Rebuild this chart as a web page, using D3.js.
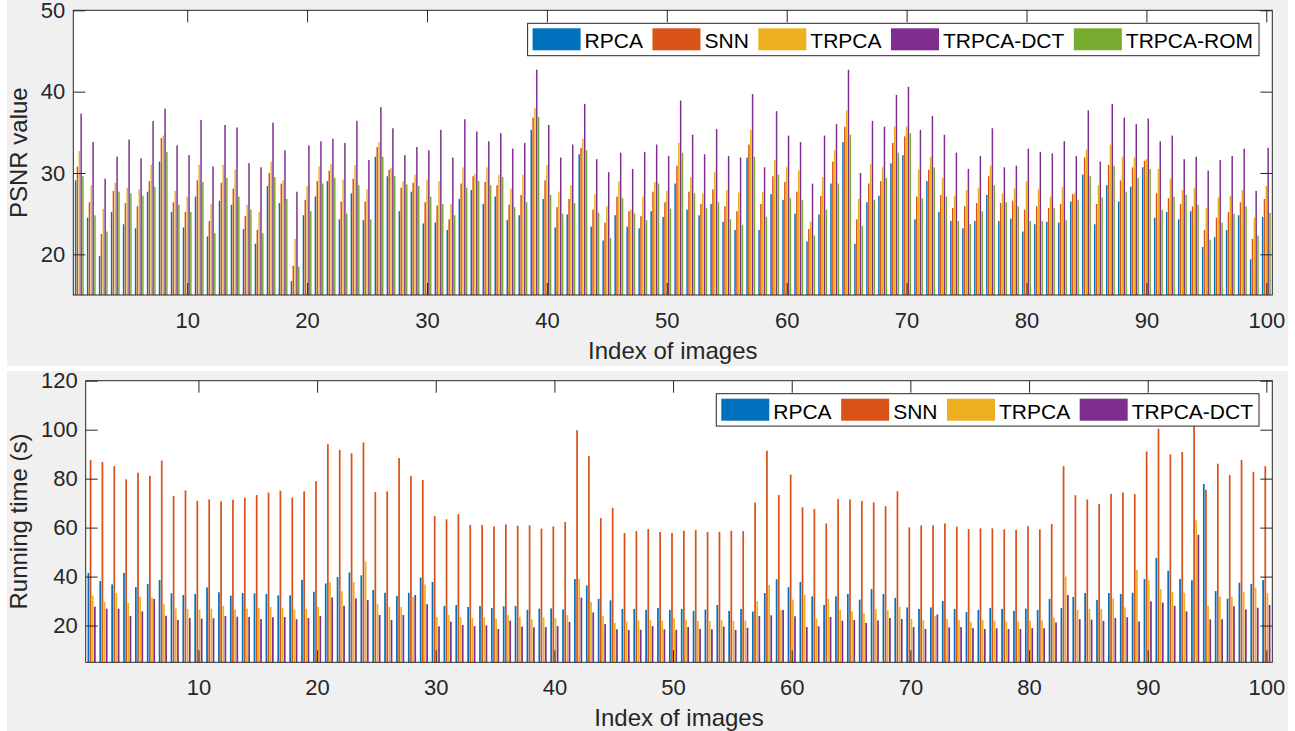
<!DOCTYPE html>
<html>
<head>
<meta charset="utf-8">
<script src="https://cdn.jsdelivr.net/npm/d3@7"></script>
<style>
  body { margin: 0; background: #fff; }
  svg { display: block; font-family: "Liberation Sans", Arial, Helvetica, sans-serif; }
</style>
</head>
<body>
<svg id="fig" width="1295" height="731"></svg>
<script>
// image index 1..100 (categories)
const imageIndex = d3.range(1, 101);
const xTickValues = [10, 20, 30, 40, 50, 60, 70, 80, 90, 100];
const psnrTicks = [20, 30, 40, 50];
const timeTicks = [20, 40, 60, 80, 100, 120];

// PSNR values (top plot)
const psnrRPCA = [29.1,24.5,19.8,25.2,23.7,23.2,27.7,31.4,25.2,23.3,27.1,22.2,26.6,26.1,23.1,21.3,28.4,26.3,16.7,24.8,
  27.1,29.0,24.3,27.5,24.2,32.0,29.6,25.3,27.7,23.8,23.9,23.0,26.8,27.9,26.2,27.1,24.2,24.8,35.3,26.8,
  23.3,24.9,32.3,23.4,21.7,24.8,23.4,23.2,25.3,24.6,28.7,25.5,24.8,26.2,24.0,23.0,31.9,23.0,27.4,26.7,
  25.0,21.6,24.9,28.7,33.8,21.3,26.4,27.2,31.2,32.2,24.3,29.0,25.2,24.1,23.2,24.1,27.3,24.1,24.4,22.8,
  23.7,24.0,23.9,26.5,29.8,23.7,28.5,26.5,28.3,30.7,24.5,25.2,24.3,25.3,20.9,22.1,23.0,24.8,19.4,24.6];
const psnrSNN = [30.8,26.4,22.5,27.8,26.3,25.9,29.0,34.3,26.4,25.2,29.1,24.1,28.8,28.1,24.7,23.0,30.0,28.7,18.6,26.7,
  29.0,30.3,26.5,29.3,26.5,33.2,30.4,28.2,28.8,26.4,26.0,24.3,28.7,29.6,28.9,28.5,26.1,27.3,36.8,29.1,
  25.8,26.8,33.1,25.5,23.9,27.1,25.3,24.7,27.7,26.4,30.9,27.7,26.2,28.0,25.9,25.3,33.5,26.2,29.6,28.9,
  27.7,23.1,27.2,31.4,35.7,24.3,28.7,29.0,33.7,34.5,27.1,30.4,27.3,25.7,25.9,26.3,29.6,26.3,26.6,25.5,
  25.9,25.7,26.2,27.4,31.9,26.2,31.0,29.1,30.7,31.5,27.5,26.9,26.2,25.9,23.0,24.5,25.2,26.4,21.9,26.8];
const psnrTRPCA = [32.7,28.5,25.6,28.8,28.2,28.0,31.0,34.6,27.8,27.1,31.0,26.2,31.0,30.4,26.1,25.2,31.4,29.1,21.9,28.4,
  30.8,31.1,29.2,31.0,28.0,33.8,30.6,29.0,29.8,29.2,29.0,26.2,30.7,29.9,30.7,29.8,28.1,29.8,38.0,31.0,
  27.7,28.5,34.2,27.4,25.9,29.0,25.5,27.1,28.9,27.8,33.7,29.5,27.5,30.1,27.9,27.6,35.3,27.7,31.6,30.7,
  30.3,24.0,29.5,32.8,37.7,26.8,31.1,30.7,35.7,35.7,30.4,32.0,29.4,27.2,27.9,28.2,30.9,27.5,28.1,29.0,
  28.0,27.1,28.3,27.5,32.9,28.5,33.5,32.0,31.9,31.7,30.5,29.3,27.9,28.2,25.7,27.0,27.2,27.9,24.5,28.4];
const psnrDCT = [37.3,33.8,29.3,32.0,34.1,31.8,36.4,37.9,33.4,32.2,36.5,30.8,35.9,35.6,31.2,30.7,36.2,32.8,27.7,33.4,
  33.9,34.2,33.7,36.4,31.6,38.1,35.5,32.2,33.2,32.8,35.3,31.9,36.6,35.1,33.9,34.9,33.0,33.7,42.7,35.9,
  31.9,33.5,38.5,31.7,30.1,32.5,30.5,32.6,33.5,32.1,38.9,34.7,32.3,35.4,32.1,31.9,39.7,30.7,37.6,34.6,
  33.8,28.7,34.6,36.0,42.7,30.0,36.4,35.7,39.6,40.6,35.3,37.0,34.7,32.5,30.5,32.1,35.5,30.7,30.9,33.0,
  32.6,32.4,33.9,32.1,37.7,31.4,38.5,36.8,36.0,36.7,33.9,34.6,31.7,32.0,30.3,31.6,32.1,33.0,27.8,33.1];
const psnrROM = [29.6,24.8,22.8,27.7,27.5,27.2,28.3,32.6,26.1,25.2,28.9,22.6,29.4,27.1,25.5,22.6,29.5,26.8,18.5,25.3,
  28.7,29.4,25.0,28.5,24.3,32.0,29.6,28.6,28.4,27.1,26.2,24.8,28.2,29.0,28.5,29.5,25.8,26.4,36.9,27.3,
  25.0,26.3,32.8,25.1,22.0,26.9,25.0,24.2,28.7,25.6,32.5,27.5,25.7,26.4,24.3,23.6,32.0,24.6,29.8,26.9,
  26.7,22.3,25.5,28.7,34.7,23.5,26.7,29.4,32.5,34.9,26.9,30.7,27.1,24.1,23.7,25.3,28.5,26.4,25.9,24.1,
  24.1,25.7,24.2,26.7,29.6,27.0,30.9,27.7,29.4,30.5,25.5,27.1,27.3,26.1,21.8,23.9,25.0,25.9,22.3,25.1];

// running time in seconds (bottom plot)
const timeRPCA = [41.5,38.2,36.8,41.5,35.7,37.0,38.6,33.2,32.5,32.9,35.6,33.6,32.2,33.3,33.2,32.9,32.3,32.3,38.7,33.8,
  37.2,39.8,41.7,40.5,34.5,33.4,32.1,33.4,39.6,37.8,28.0,28.4,27.6,28.0,27.2,27.9,28.0,26.4,26.9,27.0,
  26.6,39.0,36.4,30.9,30.3,26.8,26.8,26.4,27.2,26.4,26.8,26.0,26.5,28.4,26.0,26.8,25.7,33.3,38.9,35.7,
  37.8,31.9,28.4,31.9,32.9,30.6,34.9,32.9,31.3,27.4,26.8,27.4,30.0,26.8,25.5,26.4,27.2,26.8,26.0,26.9,
  26.4,30.9,27.2,31.7,33.3,30.4,33.3,32.9,33.4,39.0,47.6,42.4,39.0,38.5,77.8,34.1,31.0,37.5,37.0,38.6];
const timeSNN = [87.6,86.8,85.1,79.7,82.4,81.2,87.4,72.9,75.2,70.9,71.5,70.7,71.4,72.2,73.3,74.3,75.1,72.3,74.8,79.0,
  94.1,91.7,90.4,94.8,74.5,74.8,88.4,81.1,79.4,64.7,63.4,65.5,61.1,61.1,60.5,61.3,60.8,60.9,59.6,60.5,
  62.3,99.8,89.2,63.9,68.1,57.8,58.6,59.4,58.2,57.8,58.7,59.0,58.2,58.3,58.7,58.6,70.2,91.4,73.3,81.7,
  68.3,67.6,61.7,71.7,71.5,70.9,70.3,68.8,74.8,60.1,60.9,60.9,61.7,60.4,59.4,59.7,59.7,59.3,59.0,60.6,
  59.3,61.5,85.1,73.2,71.5,69.6,73.8,74.4,73.7,91.1,100.4,89.9,90.9,102.5,75.5,86.1,81.5,87.6,82.8,85.1];
const timeTRPCA = [32.3,29.6,33.3,29.2,31.7,31.4,28.7,27.0,26.8,26.6,26.8,28.1,26.6,26.9,27.2,27.6,27.2,26.5,26.9,27.6,
  37.7,34.0,37.8,46.2,28.9,27.6,27.6,31.7,36.8,23.5,24.3,23.5,23.1,23.4,22.7,24.3,23.6,22.6,23.4,23.0,
  24.3,39.1,29.6,23.8,21.1,21.7,22.1,22.3,22.0,23.0,22.4,21.9,21.9,22.4,21.9,22.1,30.0,36.6,26.2,30.6,
  32.6,22.8,30.9,26.4,25.8,25.0,26.8,26.2,27.7,22.7,22.3,23.9,22.7,22.3,21.5,22.3,22.0,21.7,21.7,22.0,
  22.1,23.2,40.0,26.4,26.8,26.8,31.1,27.4,42.7,38.5,34.9,33.8,33.4,63.0,28.1,31.8,31.8,33.8,35.5,33.2];
const timeDCT = [27.7,26.9,26.9,23.9,25.8,30.9,24.0,22.3,23.1,22.8,23.0,23.9,23.6,23.5,22.7,23.4,23.5,22.6,23.1,23.9,
  31.5,28.1,31.1,30.4,24.3,22.3,24.3,32.5,28.7,19.7,21.6,20.2,19.8,20.1,18.6,22.0,19.6,19.3,19.4,19.8,
  21.5,31.4,25.4,20.6,18.5,18.2,18.3,19.8,18.5,18.3,19.4,18.6,18.5,19.6,18.2,19.1,23.9,24.2,26.4,23.8,
  19.4,19.7,23.5,22.0,22.3,21.1,22.1,23.1,22.7,19.4,18.6,24.5,19.3,19.4,19.0,18.6,18.9,18.6,18.6,19.0,
  18.9,21.3,32.5,22.6,22.4,21.9,23.1,23.4,21.7,29.9,29.4,28.1,25.8,57.1,22.6,22.6,27.9,26.6,27.3,28.4];

const methodNames = ['RPCA', 'SNN', 'TRPCA', 'TRPCA-DCT', 'TRPCA-ROM'];
const methodColors = ['#0072BD', '#D95319', '#EDB120', '#7E2F8E', '#77AC30'];
const ink = '#262626';

const svg = d3.select('#fig');
svg.append('rect').attr('width', 1295).attr('height', 731).attr('fill', '#fff');
svg.append('rect').attr('x', 7).attr('y', 0).attr('width', 1281).attr('height', 366).attr('fill', '#f0f0f0');
svg.append('rect').attr('x', 7).attr('y', 371).attr('width', 1281).attr('height', 360).attr('fill', '#f0f0f0');

function drawPanel(p) {
    const g = svg.append('g');
    const x = d3.scaleLinear().domain([0.5, 100.5]).range([p.left, p.right]);
    const y = d3.scaleLinear().domain(p.yDomain).range([p.bottom, p.top]);

    g.append('rect')
        .attr('x', p.left).attr('y', p.top)
        .attr('width', p.right - p.left).attr('height', p.bottom - p.top)
        .attr('fill', '#fff');

    // grouped bars, matlab style spacing
    const n = p.series.length;
    const groupWidth = Math.min(0.8, n / (n + 1.5));
    const barW = groupWidth / n * 0.8;
    p.series.forEach((vals, j) => {
        const off = -groupWidth / 2 + (2 * j + 1) * groupWidth / (2 * n);
        g.append('g').selectAll('rect')
            .data(vals)
            .join('rect')
            .attr('x', (d, i) => x(imageIndex[i] + off - barW / 2))
            .attr('width', x(barW) - x(0))
            .attr('y', d => y(d))
            .attr('height', d => y(p.yDomain[0]) - y(d))
            .attr('fill', methodColors[j]);
    });

    const styleAxis = sel => {
        sel.select('.domain').remove();
        sel.selectAll('line').attr('stroke', ink);
        sel.selectAll('text').attr('fill', ink).attr('font-size', 22)
            .attr('font-family', '"Liberation Sans", Arial, Helvetica, sans-serif');
    };

    g.append('g').attr('transform', `translate(0,${p.bottom})`)
        .call(d3.axisBottom(x).tickValues(xTickValues).tickSizeInner(-12).tickSizeOuter(0).tickPadding(17.4))
        .call(styleAxis);
    g.append('g').attr('transform', `translate(0,${p.top})`)
        .call(d3.axisTop(x).tickValues(xTickValues).tickSizeInner(-12).tickSizeOuter(0).tickFormat(''))
        .call(styleAxis);
    g.append('g').attr('transform', `translate(${p.left},0)`)
        .call(d3.axisLeft(y).tickValues(p.yTicks).tickSizeInner(-12).tickSizeOuter(0).tickPadding(8))
        .call(styleAxis);
    g.append('g').attr('transform', `translate(${p.right},0)`)
        .call(d3.axisRight(y).tickValues(p.yTicks).tickSizeInner(-12).tickSizeOuter(0).tickFormat(''))
        .call(styleAxis);

    g.append('rect')
        .attr('x', p.left).attr('y', p.top)
        .attr('width', p.right - p.left).attr('height', p.bottom - p.top)
        .attr('fill', 'none').attr('stroke', ink).attr('stroke-width', 1);

    g.append('text')
        .attr('x', (p.left + p.right) / 2).attr('y', p.bottom + 64)
        .attr('text-anchor', 'middle').attr('font-size', 24).attr('fill', ink)
        .text('Index of images');
    g.append('text')
        .attr('transform', `translate(27,${(p.top + p.bottom) / 2}) rotate(-90)`)
        .attr('text-anchor', 'middle').attr('font-size', 24).attr('fill', ink)
        .text(p.yLabel);

    // legend, anchored at the top right corner
    const lg = g.append('g');
    const box = lg.append('rect');
    let cx = 5;
    p.series.forEach((vals, j) => {
        lg.append('rect').attr('x', cx).attr('y', 5).attr('width', 48).attr('height', 22)
            .attr('fill', methodColors[j]);
        const t = lg.append('text').attr('x', cx + 52).attr('y', 25)
            .attr('font-size', 21).attr('fill', '#000').text(methodNames[j]);
        cx += 52 + t.node().getComputedTextLength() + 9.5;
    });
    const w = cx - 9.5 + 6;
    box.attr('width', w).attr('height', 32.4)
        .attr('fill', '#fff').attr('stroke', ink).attr('stroke-width', 1);
    lg.attr('transform', `translate(${p.right - 13.3 - w},${p.top + 13})`);
}

drawPanel({
    left: 73.3, right: 1272.3, top: 10.3, bottom: 295,
    yDomain: [15, 50], yTicks: psnrTicks, yLabel: 'PSNR value',
    series: [psnrRPCA, psnrSNN, psnrTRPCA, psnrDCT, psnrROM]
});
drawPanel({
    left: 85.7, right: 1272.3, top: 380.7, bottom: 662.3,
    yDomain: [5, 120], yTicks: timeTicks, yLabel: 'Running time (s)',
    series: [timeRPCA, timeSNN, timeTRPCA, timeDCT]
});
</script>
</body>
</html>
